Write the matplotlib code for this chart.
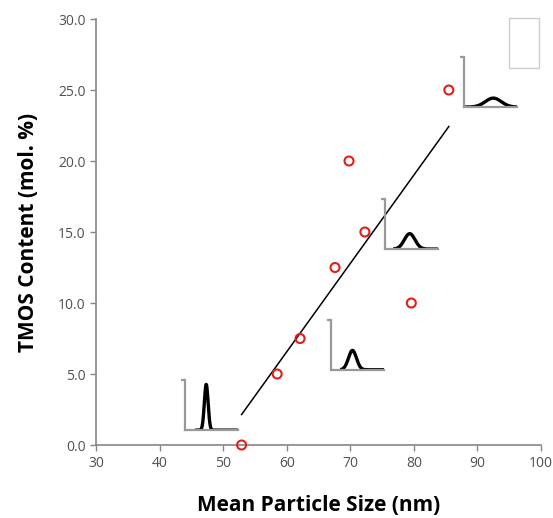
import numpy as np
import matplotlib
matplotlib.use("Agg")
import matplotlib.pyplot as plt
from matplotlib.patches import Rectangle

# data
particle_size = [52.9, 58.5, 62.1, 67.6, 69.8, 72.3, 79.6, 85.5]
tmos_content = [0.0, 5.0, 7.5, 12.5, 20.0, 15.0, 10.0, 25.0]

x_ticks = [30, 40, 50, 60, 70, 80, 90, 100]
y_ticks = [0, 5, 10, 15, 20, 25, 30]

# size-distribution insets: lower-left corner (data units) and peak shape
inset_x = [44.0, 67.0, 75.5, 87.9]
inset_y = [1.05, 5.3, 13.8, 23.8]
peak_center = [0.40, 0.40, 0.46, 0.55]
peak_sigma = [0.035, 0.075, 0.10, 0.15]
peak_height = [0.92, 0.39, 0.31, 0.18]
curve_start = [0.19, 0.17, 0.15, 0.0]

plt.rcParams['font.family'] = ['Open Sans', 'DejaVu Sans']

fig = plt.figure(figsize=(5.53, 5.18), dpi=100)
ax = fig.add_axes([0.1736, 0.1409, 0.8047, 0.8224])

ax.set_xlim(30, 100)
ax.set_ylim(0, 30)
ax.set_xticks(x_ticks)
ax.set_yticks(y_ticks)
ax.set_yticklabels([f'{v:.1f}' for v in y_ticks])

gray = '#868686'
for s in ['top', 'right']:
    ax.spines[s].set_visible(False)
for s in ['left', 'bottom']:
    ax.spines[s].set_color(gray)
    ax.spines[s].set_linewidth(1.2)
ax.tick_params(colors=gray, labelcolor='#505050', labelsize=10, length=4, width=1)
ax.tick_params(axis='x', pad=4)

# trendline
slope, intercept = np.polyfit(particle_size, tmos_content, 1)
xl = np.array([min(particle_size), max(particle_size)])
ax.plot(xl, slope * xl + intercept, color='black', linewidth=1.1, zorder=2)

ax.scatter(particle_size, tmos_content, s=42, facecolors='none',
           edgecolors='#e0201b', linewidths=1.5, zorder=3, clip_on=False)

ax.set_xlabel('Mean Particle Size (nm)', fontsize=15, fontweight='bold', labelpad=17)
ax.set_ylabel('TMOS Content (mol. %)', fontsize=15, fontweight='bold', labelpad=14)

# insets
w_units = 8.35
h_units = 3.5
for i in range(len(inset_x)):
    ins = ax.inset_axes([inset_x[i], inset_y[i], w_units, h_units], transform=ax.transData)
    ins.patch.set_alpha(0)
    t = np.linspace(curve_start[i], 1.0, 200)
    ins.plot(t, peak_height[i] * np.exp(-0.5 * ((t - peak_center[i]) / peak_sigma[i]) ** 2),
             color='black', linewidth=2.4, solid_capstyle='butt')
    ins.set_xlim(0, 1)
    ins.set_ylim(0, 1)
    for s in ['top', 'right']:
        ins.spines[s].set_visible(False)
    for s in ['left', 'bottom']:
        ins.spines[s].set_color('#999999')
        ins.spines[s].set_linewidth(1.6)
    ins.set_xticks([])
    ins.set_yticks([1])
    ins.set_yticklabels([])
    ins.tick_params(axis='y', length=3, width=1.6, color='#999999')

# empty legend box
ax.add_patch(Rectangle((0.927, 0.885), 0.0675, 0.118, transform=ax.transAxes,
                       facecolor='white', edgecolor='#cccccc', linewidth=1, clip_on=False))

fig.savefig('out.png', dpi=100)
